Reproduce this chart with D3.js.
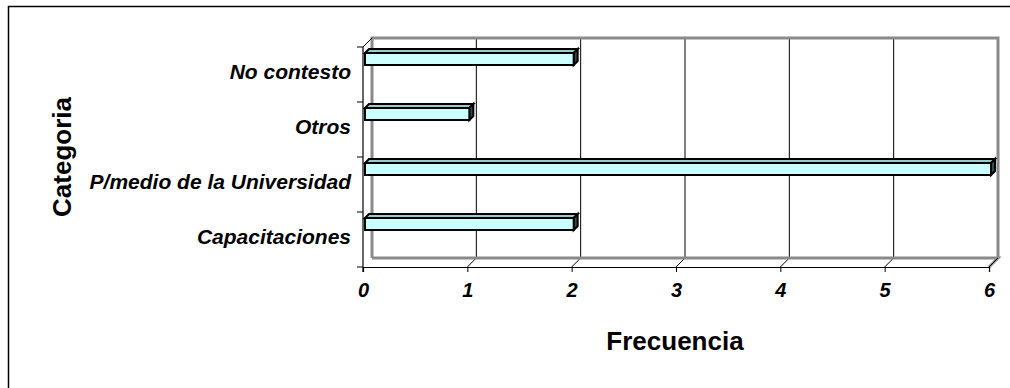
<!DOCTYPE html>
<html>
<head>
<meta charset="utf-8">
<script src="https://cdn.jsdelivr.net/npm/d3@7"></script>
<style>
  html, body { margin: 0; padding: 0; background: #fff; overflow: hidden; }
  svg { display: block; }
  text { font-family: "Liberation Sans", Arial, sans-serif; fill: #000; }
</style>
</head>
<body>
<svg id="chart" width="1010" height="388"></svg>
<script>
// Categories listed top to bottom as they appear on the vertical axis
const categories = ["No contesto", "Otros", "P/medio de la Universidad", "Capacitaciones"];
const frecuencia = [2, 1, 6, 2];
const valueTicks = [0, 1, 2, 3, 4, 5, 6];
const xTitle = "Frecuencia";
const yTitle = "Categoria";

const svg = d3.select("#chart");

// Front plane of the plot and the 3D depth offset of the walls
const front = { left: 363, right: 989, top: 47, bottom: 267 };
const DX = 9, DY = -9;

const x = d3.scaleLinear().domain([0, 6]).range([front.left, front.right]);
const y = d3.scaleBand().domain(categories).range([front.top, front.bottom]).padding(0);

// Outer chart frame (runs past the right and bottom edges)
svg.append("rect")
  .attr("x", 8.5).attr("y", 6.5)
  .attr("width", 2000).attr("height", 1000)
  .attr("fill", "none").attr("stroke", "#000").attr("stroke-width", 1.5);

const walls = svg.append("g");
const wallStroke = "#8a8a8a";

// Back wall vertical gridlines and floor lines for each value tick
valueTicks.slice(1, -1).forEach(v => {
  walls.append("line")
    .attr("x1", x(v) + DX).attr("x2", x(v) + DX)
    .attr("y1", front.top + DY).attr("y2", front.bottom + DY)
    .attr("stroke", "#000").attr("stroke-width", 1);
  walls.append("line")
    .attr("x1", x(v)).attr("y1", front.bottom)
    .attr("x2", x(v) + DX).attr("y2", front.bottom + DY)
    .attr("stroke", "#000").attr("stroke-width", 1);
});

// Back wall outline (top, left, right) and back edge of floor
walls.append("path")
  .attr("d", `M${front.left + DX},${front.bottom + DY} V${front.top + DY} H${front.right + DX} V${front.bottom + DY}`)
  .attr("fill", "none").attr("stroke", wallStroke).attr("stroke-width", 3);
walls.append("path")
  .attr("d", `M${front.left + DX},${front.bottom + DY} H${front.right + DX} L${front.right},${front.bottom}`)
  .attr("fill", "none").attr("stroke", wallStroke).attr("stroke-width", 3);

// Bars: front face, top face and right end face
const bars = svg.append("g");
const faceDepth = 4;
categories.forEach((c, i) => {
  const v = frecuencia[i];
  const x0 = x(0) + 2, x1 = x(v) + 2;
  const yt = y(c) + 6, yb = y(c) + 18;
  const g = bars.append("g")
    .attr("stroke", "#000").attr("stroke-width", 2).attr("stroke-linejoin", "miter");
  g.append("polygon")
    .attr("points", [[x0, yt], [x0 + faceDepth, yt - faceDepth], [x1 + faceDepth, yt - faceDepth], [x1, yt]].join(" "))
    .attr("fill", "#99cccc");
  g.append("polygon")
    .attr("points", [[x1, yt], [x1 + faceDepth, yt - faceDepth], [x1 + faceDepth, yb - faceDepth], [x1, yb]].join(" "))
    .attr("fill", "#2f4f4f");
  g.append("rect")
    .attr("x", x0).attr("y", yt)
    .attr("width", x1 - x0).attr("height", yb - yt)
    .attr("fill", "#ccffff");
});

// Value axis along the front edge of the floor
const xAxis = svg.append("g")
  .attr("transform", `translate(0,${front.bottom})`)
  .call(d3.axisBottom(x).tickValues(valueTicks).tickSize(5).tickPadding(11).tickFormat(d3.format("d")));
xAxis.select(".domain").attr("stroke", "#000").attr("stroke-width", 1.2);
xAxis.selectAll(".tick line").attr("stroke", "#000");
xAxis.selectAll(".tick text")
  .style("font-family", "'Liberation Sans', Arial, sans-serif")
  .style("font-size", "20px").style("font-weight", "bold").style("font-style", "italic")
  .attr("fill", "#000");
svg.append("line")
  .attr("x1", front.right).attr("y1", front.bottom)
  .attr("x2", front.right + DX).attr("y2", front.bottom + DY)
  .attr("stroke", "#000").attr("stroke-width", 1);

// Category axis on the left, ticks at band boundaries
const catAxis = svg.append("g");
catAxis.append("line")
  .attr("x1", front.left).attr("x2", front.left)
  .attr("y1", front.top).attr("y2", front.bottom + 5)
  .attr("stroke", "#000").attr("stroke-width", 1.2);
catAxis.append("line")
  .attr("x1", front.left).attr("y1", front.top)
  .attr("x2", front.left + DX).attr("y2", front.top + DY)
  .attr("stroke", "#000").attr("stroke-width", 1);
const boundaries = categories.map(c => y(c)).concat([front.bottom]);
catAxis.selectAll("line.tick")
  .data(boundaries)
  .join("line")
  .attr("class", "tick")
  .attr("x1", front.left - 6).attr("x2", front.left)
  .attr("y1", d => d).attr("y2", d => d)
  .attr("stroke", "#000").attr("stroke-width", 1);
catAxis.selectAll("text")
  .data(categories)
  .join("text")
  .attr("x", 351)
  .attr("y", d => y(d) + y.bandwidth() / 2 - 3)
  .attr("text-anchor", "end")
  .attr("dominant-baseline", "central")
  .style("font-size", "21px").style("font-weight", "bold").style("font-style", "italic")
  .text(d => d);

// Axis titles
svg.append("text")
  .attr("x", 675).attr("y", 350)
  .attr("text-anchor", "middle")
  .style("font-size", "26px").style("font-weight", "bold")
  .text(xTitle);
svg.append("text")
  .attr("transform", "translate(71,157) rotate(-90)")
  .attr("text-anchor", "middle")
  .style("font-size", "26px").style("font-weight", "bold")
  .text(yTitle);
</script>
</body>
</html>
